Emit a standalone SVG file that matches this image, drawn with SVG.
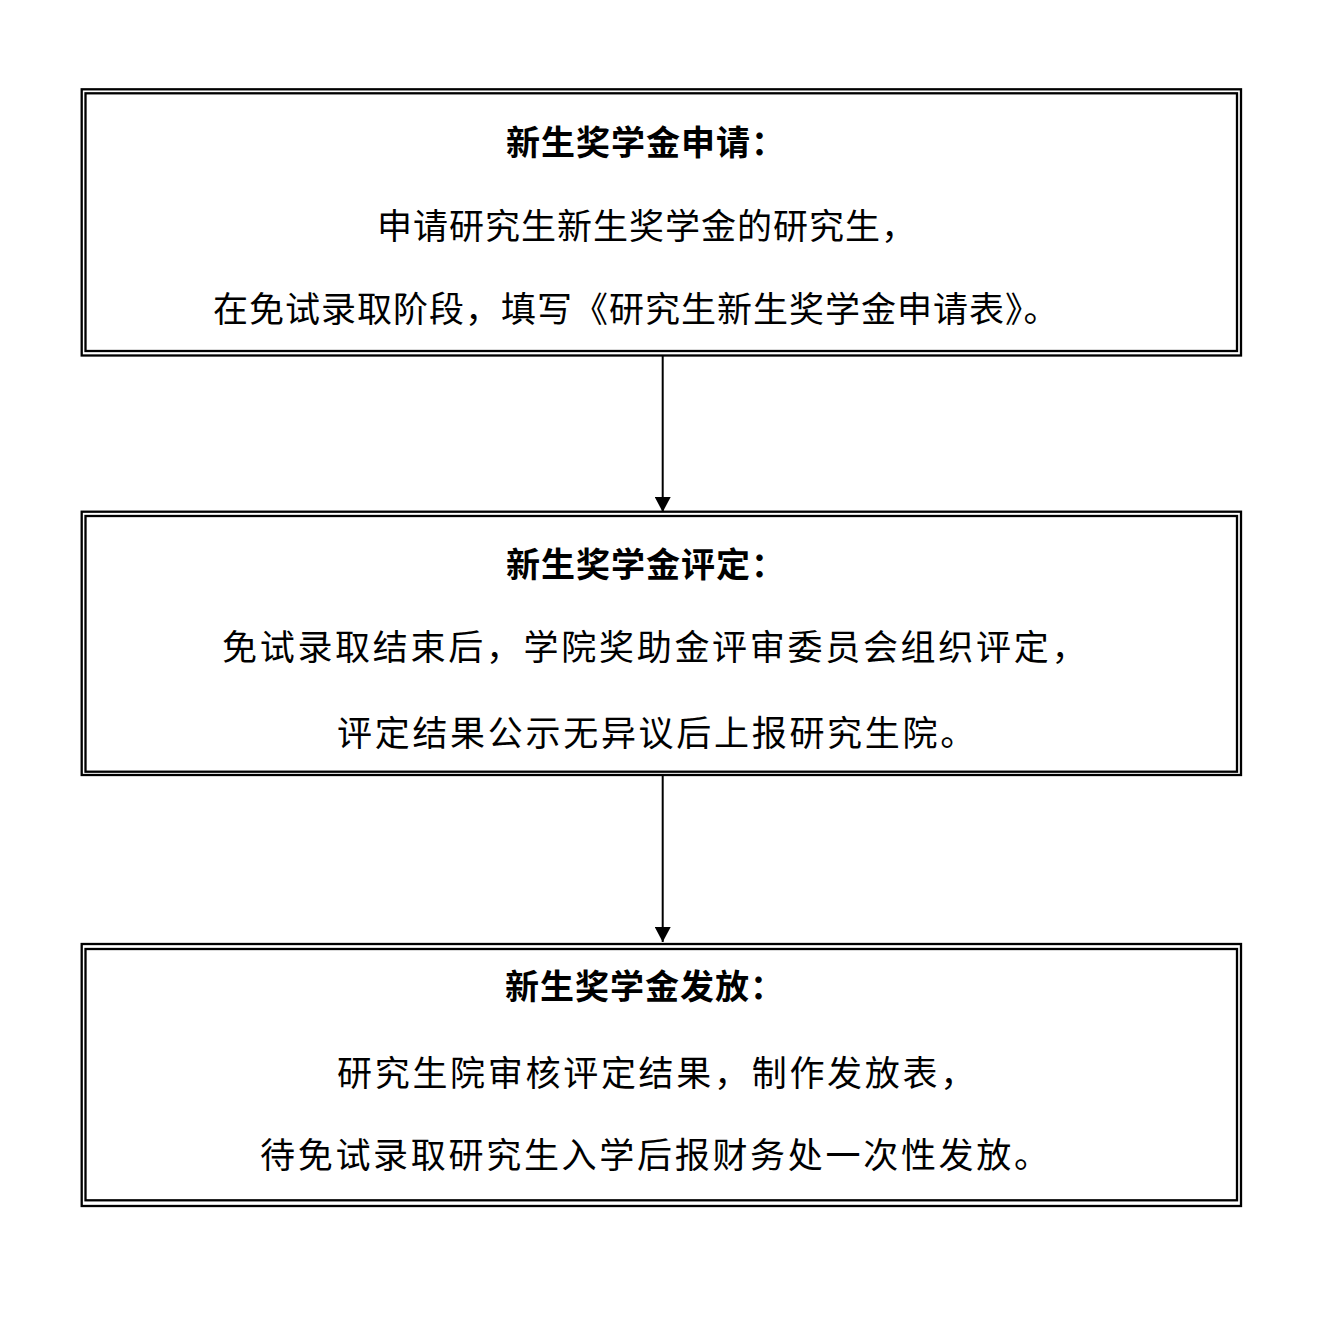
<svg xmlns="http://www.w3.org/2000/svg" width="1325" height="1329" viewBox="0 0 1325 1329">
<style>
.outer{fill:none;stroke:#000;stroke-width:2.3}
.inner{fill:none;stroke:#000;stroke-width:2.3}
.title{font-family:"Noto Sans CJK SC","Liberation Serif",serif;font-size:34px;font-weight:bold;fill:#000;letter-spacing:1px}
.body1{font-family:"Noto Sans CJK SC","Liberation Serif",serif;font-size:35px;fill:#000;letter-spacing:1px}
.body2{font-family:"Noto Sans CJK SC","Liberation Serif",serif;font-size:35px;fill:#000;letter-spacing:2.7px}
.conn{stroke:#000;stroke-width:2;fill:none}
</style>
<defs>
<marker id="arrow" markerUnits="userSpaceOnUse" markerWidth="16" markerHeight="16" refX="15" refY="8" orient="auto">
<path d="M0,0 L15,8 L0,16 Z" fill="#000"/>
</marker>
</defs>
<rect width="1325" height="1329" fill="#fff"/>
<g id="connectors">
<line class="conn" x1="662.7" y1="356" x2="662.7" y2="512" marker-end="url(#arrow)"/>
<line class="conn" x1="662.7" y1="776" x2="662.7" y2="942" marker-end="url(#arrow)"/>
</g>
<g id="node1">
<rect class="outer" x="81.7" y="89.3" width="1159.3" height="266.2"/>
<rect class="inner" x="85.5" y="93.3" width="1151.5" height="257.7"/>
<text class="title" x="506" y="155">新生奖学金申请：</text>
<text class="body1" x="377" y="239">申请研究生新生奖学金的研究生，</text>
<text class="body1" x="213" y="322">在免试录取阶段，填写《研究生新生奖学金申请表》。</text>
</g>
<g id="node2">
<rect class="outer" x="81.7" y="511.7" width="1159.3" height="263.3"/>
<rect class="inner" x="85.5" y="516" width="1151.5" height="255.7"/>
<text class="title" x="506" y="577">新生奖学金评定：</text>
<text class="body2" x="222" y="660">免试录取结束后，学院奖助金评审委员会组织评定，</text>
<text class="body2" x="337" y="746">评定结果公示无异议后上报研究生院。</text>
</g>
<g id="node3">
<rect class="outer" x="81.7" y="944" width="1159.3" height="262"/>
<rect class="inner" x="85.5" y="949" width="1151.5" height="251.3"/>
<text class="title" x="505" y="999">新生奖学金发放：</text>
<text class="body2" x="337" y="1086">研究生院审核评定结果，制作发放表，</text>
<text class="body2" x="260" y="1168">待免试录取研究生入学后报财务处一次性发放。</text>
</g>
</svg>
